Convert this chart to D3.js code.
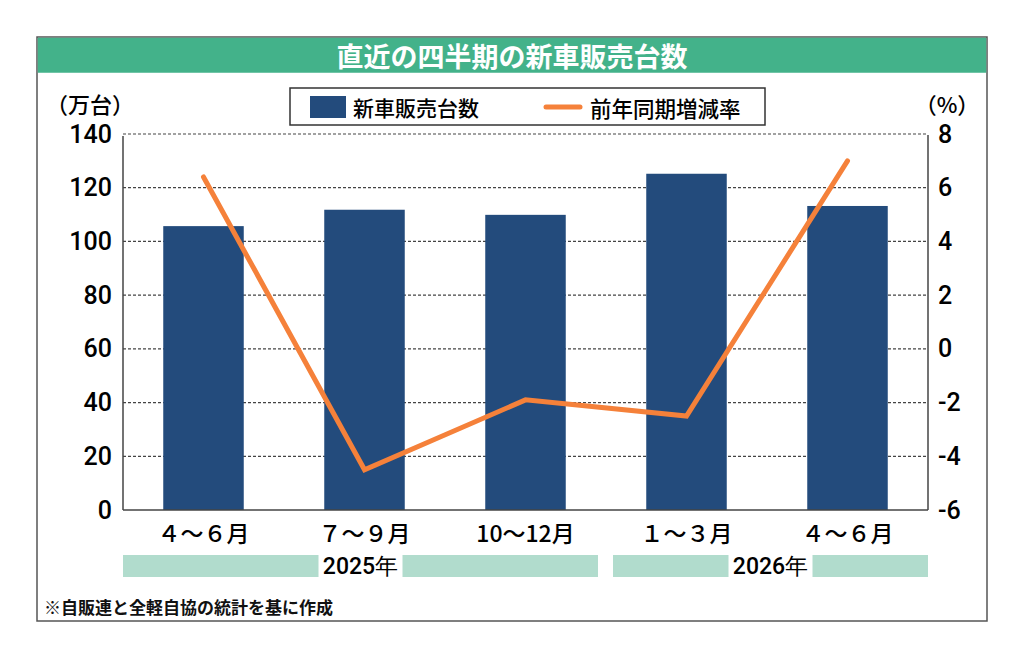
<!DOCTYPE html>
<html>
<head>
<meta charset="utf-8">
<script src="https://cdn.jsdelivr.net/npm/d3@7"></script>
<style>
  body { margin: 0; background: #fff; }
  svg text { font-family: "Noto Sans CJK JP", "Noto Sans", sans-serif; }
  svg text.num { font-family: Roboto, "Noto Sans", sans-serif; font-weight: 500; }
</style>
</head>
<body>
<div id="chart"></div>
<script>
var categories = ["４～６月", "７～９月", "10～12月", "１～３月", "４～６月"];
var sales = [105.7, 111.8, 109.9, 125.2, 113.2];      // 万台
var change = [6.4, -4.5, -1.9, -2.5, 7.0];            // %
var leftTicks = [0, 20, 40, 60, 80, 100, 120, 140];
var rightTicks = [-6, -4, -2, 0, 2, 4, 6, 8];
var years = [{ label: "2025年", from: 0, to: 3 }, { label: "2026年", from: 3, to: 5 }];

(function() {
var w = 1024, h = 658;
var pL = 123, pR = 928, pT = 134, pB = 510;
var bar_color = "#234b7c";
var line_color = "#f5813a";

var svg = d3.select("#chart").append("svg")
    .attr("width", w)
    .attr("height", h);

// frame + title bar
svg.append("rect").attr("x", 37).attr("y", 37).attr("width", 950).attr("height", 584)
    .attr("fill", "#fff").attr("stroke", "#555").attr("stroke-width", 1.5);
svg.append("rect").attr("x", 37.75).attr("y", 37.75).attr("width", 948.5).attr("height", 35)
    .attr("fill", "#43b28a");
svg.append("text").attr("x", 512).attr("y", 55).attr("text-anchor", "middle")
    .attr("dominant-baseline", "central").attr("fill", "#fff")
    .style("font-size", "27px").style("font-weight", "bold")
    .text("直近の四半期の新車販売台数");

var x = d3.scaleBand().domain(d3.range(categories.length)).range([pL, pR]).paddingInner(0.5).paddingOuter(0.25);
var yL = d3.scaleLinear().domain([0, 140]).range([pB, pT]);
var yR = d3.scaleLinear().domain([-6, 8]).range([pB, pT]);

// grid
svg.append("g").selectAll("line").data(leftTicks.slice(1)).enter().append("line")
    .attr("x1", pL).attr("x2", pR)
    .attr("y1", function(d) { return yL(d); }).attr("y2", function(d) { return yL(d); })
    .attr("stroke", "#444").attr("stroke-width", 1.2).attr("stroke-dasharray", "3,2");

// bars
svg.append("g").selectAll("rect").data(sales).enter().append("rect")
    .attr("x", function(d, i) { return x(i); })
    .attr("width", x.bandwidth())
    .attr("y", function(d) { return yL(d); })
    .attr("height", function(d) { return pB - yL(d); })
    .attr("fill", bar_color);

// axes lines
var axisG = svg.append("g").attr("stroke", "#444").attr("stroke-width", 1.5);
axisG.append("line").attr("x1", pL).attr("x2", pL).attr("y1", pT + 2).attr("y2", pB);
axisG.append("line").attr("x1", pR).attr("x2", pR).attr("y1", pT + 1).attr("y2", pB);
axisG.append("line").attr("x1", pL).attr("x2", pR).attr("y1", pB).attr("y2", pB);

// line
var line = d3.line()
    .x(function(d, i) { return x(i) + x.bandwidth() / 2; })
    .y(function(d) { return yR(d); });
svg.append("path").datum(change).attr("d", line)
    .attr("fill", "none").attr("stroke", line_color).attr("stroke-width", 5)
    .attr("stroke-linecap", "round").attr("stroke-linejoin", "miter");

// left tick labels
svg.append("g").selectAll("text").data(leftTicks).enter().append("text")
    .attr("class", "num")
    .attr("x", 112).attr("y", function(d) { return yL(d); })
    .attr("text-anchor", "end").attr("dominant-baseline", "central")
    .style("font-size", "25px").attr("fill", "#000")
    .text(function(d) { return d; });

// right tick labels
svg.append("g").selectAll("text").data(rightTicks).enter().append("text")
    .attr("class", "num")
    .attr("x", 938).attr("y", function(d) { return yR(d); })
    .attr("text-anchor", "start").attr("dominant-baseline", "central")
    .style("font-size", "25px").attr("fill", "#000")
    .text(function(d) { return d < 0 ? "-" + Math.abs(d) : d; });

// unit labels
svg.append("text").attr("x", 46).attr("y", 103).attr("dominant-baseline", "central")
    .style("font-size", "22px").style("font-weight", 500).attr("fill", "#000").text("（万台）");
svg.append("text").attr("x", 947).attr("y", 103).attr("text-anchor", "middle").attr("dominant-baseline", "central")
    .style("font-size", "22px").style("font-weight", 500).attr("fill", "#000").text("（%）");

// category labels
svg.append("g").selectAll("text").data(categories).enter().append("text")
    .attr("x", function(d, i) { return x(i) + x.bandwidth() / 2; })
    .attr("y", 532).attr("text-anchor", "middle").attr("dominant-baseline", "central")
    .style("font-size", "23px").style("font-weight", 500).attr("fill", "#000")
    .text(function(d) { return d; });

// year bands
var step = x.step();
var x0 = function(i) { return pL + i * step; };
years.forEach(function(yr, k) {
    var a = k === 0 ? pL : x0(yr.from) + 7;
    var b = yr.to === categories.length ? pR : x0(yr.to) - 8;
    var mid = (a + b) / 2;
    var tw = 84;
    var g = svg.append("g");
    g.append("rect").attr("x", a).attr("y", 555).attr("width", mid - tw / 2 - a).attr("height", 22).attr("fill", "#b1dccd");
    g.append("rect").attr("x", mid + tw / 2).attr("y", 555).attr("width", b - mid - tw / 2).attr("height", 22).attr("fill", "#b1dccd");
    g.append("text").attr("class", "num").attr("x", mid).attr("y", 566).attr("text-anchor", "middle").attr("dominant-baseline", "central")
        .style("font-size", "23px").attr("fill", "#000").text(yr.label);
});

// legend
var lg = svg.append("g");
lg.append("rect").attr("x", 290).attr("y", 88).attr("width", 475).attr("height", 37)
    .attr("fill", "#fff").attr("stroke", "#333").attr("stroke-width", 1.5);
lg.append("rect").attr("x", 310).attr("y", 96).attr("width", 36).attr("height", 22).attr("fill", bar_color);
lg.append("text").attr("x", 353).attr("y", 107).attr("dominant-baseline", "central")
    .style("font-size", "21px").style("font-weight", 500).attr("fill", "#000").text("新車販売台数");
lg.append("line").attr("x1", 546).attr("x2", 580).attr("y1", 107).attr("y2", 107)
    .attr("stroke", line_color).attr("stroke-width", 5).attr("stroke-linecap", "round");
lg.append("text").attr("x", 590).attr("y", 107).attr("dominant-baseline", "central")
    .style("font-size", "21.5px").style("font-weight", 500).attr("fill", "#000").text("前年同期増減率");

// footnote
svg.append("text").attr("x", 44).attr("y", 606).attr("dominant-baseline", "central")
    .style("font-size", "17px").style("font-weight", "bold").attr("fill", "#111")
    .text("※自販連と全軽自協の統計を基に作成");
})();
</script>
</body>
</html>
